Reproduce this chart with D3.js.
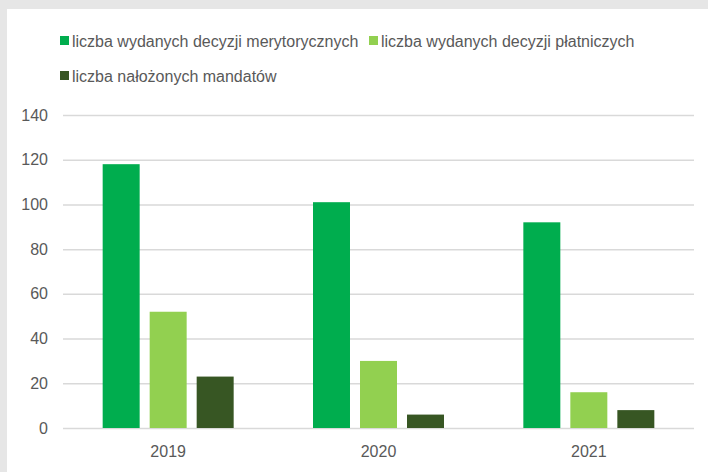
<!DOCTYPE html>
<html><head><meta charset="utf-8">
<script src="https://cdn.jsdelivr.net/npm/d3@7"></script>
<style>
html,body{margin:0;padding:0;background:#e6e6e6;}
svg{display:block;}
</style></head>
<body>
<svg id="chart" width="708" height="472"></svg>
<script>
const categories = ["2019", "2020", "2021"];
const seriesNames = ["liczba wydanych decyzji merytorycznych", "liczba wydanych decyzji płatniczych", "liczba nałożonych mandatów"];
const meritoryczne = [118, 101, 92];
const platnicze = [52, 30, 16];
const mandaty = [23, 6, 8];
const yTicks = [0, 20, 40, 60, 80, 100, 120, 140];
const colors = ["#00ad4e", "#92d050", "#375623"];

const series = [meritoryczne, platnicze, mandaty];
const svg = d3.select("#chart");
svg.append("rect").attr("x", 7).attr("y", 9).attr("width", 701).attr("height", 463).attr("fill", "#fff");

const font = "'Liberation Sans', Arial, sans-serif";
const textColor = "#595959";
const m = {left: 63, right: 694, top: 115, bottom: 428};

const x = d3.scaleBand().domain(categories).range([m.left, m.right]).paddingInner(0).paddingOuter(0);
const y = d3.scaleLinear().domain([0, 140]).range([m.bottom, m.top]);
const xs = d3.scaleBand().domain(d3.range(3)).range([0, x.bandwidth()]).paddingInner(0.213).paddingOuter(0.844);

// grid
const yAxis = d3.axisLeft(y).tickValues(yTicks).tickSize(-(m.right - m.left)).tickPadding(15);
const gy = svg.append("g").attr("transform", `translate(${m.left},0)`).call(yAxis);
gy.select(".domain").remove();
gy.selectAll(".tick line").attr("stroke", "#d9d9d9").attr("stroke-width", 1.5);
gy.selectAll(".tick text").attr("fill", textColor).style("font-family", font).style("font-size", "16px");

// bars
categories.forEach((c, ci) => {
  series.forEach((s, si) => {
    svg.append("rect")
      .attr("x", x(c) + xs(si))
      .attr("width", xs.bandwidth())
      .attr("y", y(s[ci]))
      .attr("height", y(0) - y(s[ci]))
      .attr("fill", colors[si]);
  });
});

// x axis
const xAxis = d3.axisBottom(x).tickSize(0).tickPadding(18);
const gx = svg.append("g").attr("transform", `translate(0,${m.bottom})`).call(xAxis);
gx.select(".domain").remove();
gx.selectAll(".tick text").attr("fill", textColor).style("font-family", font).style("font-size", "16px");

// legend
const legendPos = [[60, 41], [369, 41], [60, 76]];
seriesNames.forEach((n, i) => {
  const g = svg.append("g").attr("transform", `translate(${legendPos[i][0]},${legendPos[i][1]})`);
  g.append("rect").attr("x", 0).attr("y", -5).attr("width", 9).attr("height", 9).attr("fill", colors[i]);
  g.append("text").attr("x", 12).attr("y", 0).attr("dy", "0.35em")
    .attr("fill", textColor).style("font-family", font).style("font-size", "16px").text(n);
});
</script>
</body></html>
